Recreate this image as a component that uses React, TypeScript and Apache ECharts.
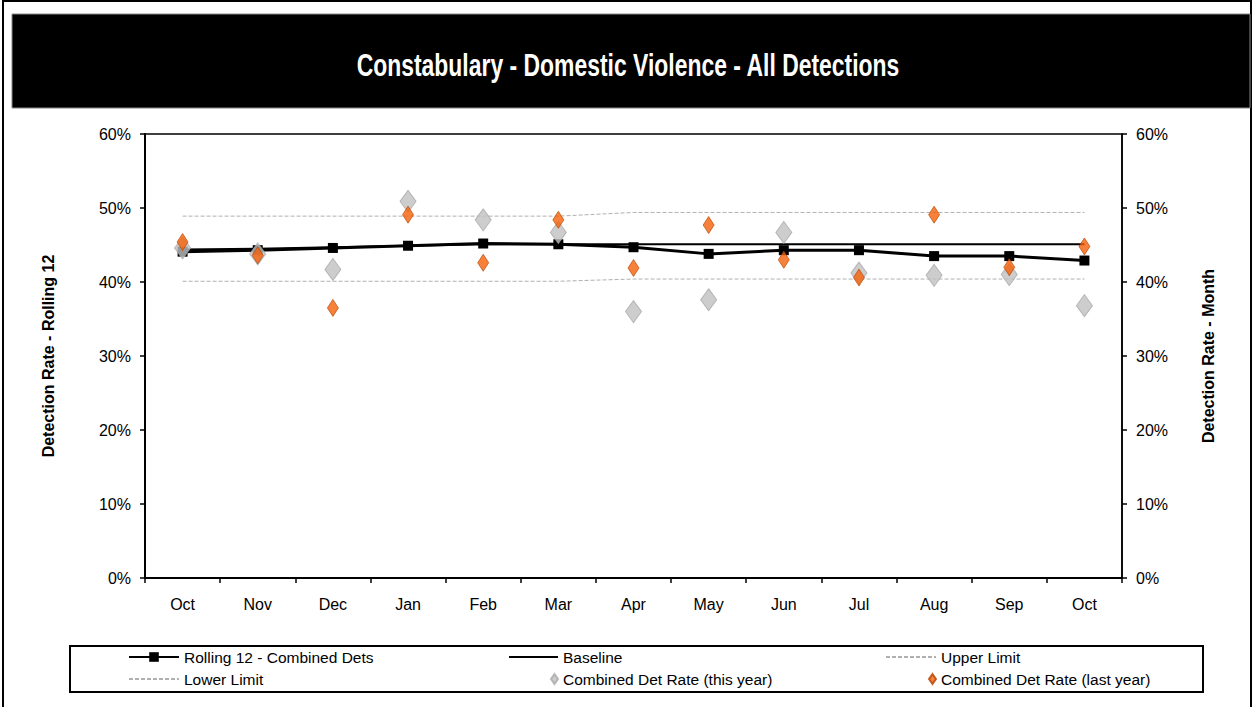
import React, { useEffect, useRef } from "react";
import * as echarts from "echarts";

const months = ["Oct", "Nov", "Dec", "Jan", "Feb", "Mar", "Apr", "May", "Jun", "Jul", "Aug", "Sep", "Oct"];
const rolling12 = [44.1, 44.3, 44.6, 44.9, 45.2, 45.1, 44.7, 43.8, 44.3, 44.3, 43.5, 43.5, 42.9];
const baseline = [44.4, 44.5, 44.7, 44.9, 45.1, 45.1, 45.1, 45.1, 45.1, 45.1, 45.1, 45.1, 45.1];
const upperLimit = [48.9, 48.9, 48.9, 48.9, 48.9, 48.9, 49.4, 49.4, 49.4, 49.4, 49.4, 49.4, 49.4];
const lowerLimit = [40.1, 40.1, 40.1, 40.1, 40.1, 40.1, 40.4, 40.4, 40.4, 40.4, 40.4, 40.4, 40.4];
const thisYear = [44.6, 43.8, 41.7, 50.9, 48.4, 46.7, 36.0, 37.6, 46.7, 41.2, 40.9, 41.0, 36.8];
const lastYear = [45.4, 43.6, 36.5, 49.1, 42.6, 48.4, 41.9, 47.7, 43.0, 40.6, 49.1, 42.0, 44.8];

const TITLE = "Constabulary - Domestic Violence - All Detections";
const SANS = '"Liberation Sans", Arial, sans-serif';

export default function App() {
  const ref = useRef<HTMLDivElement>(null);
  useEffect(() => {
    if (!ref.current) return;
    const chart = echarts.init(ref.current, null, { renderer: "svg" });
    const legendText = { fontFamily: SANS, fontSize: 15.5, color: "#000" };
    const mkLegend = (name: string, left: number, top: number, w: number, h: number) => ({
      data: [name],
      left,
      top,
      itemWidth: w,
      itemHeight: h,
      padding: 0,
      itemGap: 0,
      selectedMode: false,
      textStyle: legendText,
    });
    const axisLabel = { color: "#000", fontFamily: SANS, fontSize: 16 };
    const axisName = { color: "#000", fontFamily: SANS, fontWeight: "bold", fontSize: 16 };
    chart.setOption({
      animation: false,
      backgroundColor: "#fff",
      graphic: [
        { type: "rect", shape: { x: 3, y: 1, width: 1248, height: 730 }, style: { fill: "none", stroke: "#000", lineWidth: 2 }, z: -1 },
        { type: "rect", shape: { x: 12, y: 14, width: 1238, height: 94 }, style: { fill: "#000", stroke: "#888", lineWidth: 1 }, z: -1 },
        {
          type: "text",
          x: 628,
          y: 65,
          scaleX: 0.74,
          style: {
            text: TITLE,
            x: 0,
            y: 0,
            fill: "#fff",
            fontFamily: SANS,
            fontWeight: "bold",
            fontSize: 31,
            textAlign: "center",
            textVerticalAlign: "middle",
          },
          z: 10,
        },
        { type: "rect", shape: { x: 70, y: 646, width: 1133, height: 46 }, style: { fill: "#fff", stroke: "#000", lineWidth: 2 }, z: -1 },
      ],
      legend: [
        mkLegend("Rolling 12 - Combined Dets", 128, 649, 50, 12),
        mkLegend("Baseline", 508, 649, 49, 12),
        mkLegend("Upper Limit", 885, 649, 50, 12),
        mkLegend("Lower Limit", 128, 671, 50, 12),
        mkLegend("Combined Det Rate (this year)", 550, 671, 7, 10),
        mkLegend("Combined Det Rate (last year)", 928, 671, 7, 10),
      ],
      grid: {
        left: 145,
        right: 133,
        top: 134,
        bottom: 129,
        show: true,
        borderColor: "#000",
        borderWidth: 1.5,
        backgroundColor: "#fff",
      },
      xAxis: {
        type: "category",
        data: months,
        boundaryGap: true,
        axisLine: { lineStyle: { color: "#000", width: 2 } },
        axisTick: { show: true, length: 5, lineStyle: { color: "#000", width: 1.5 } },
        axisLabel: { ...axisLabel, margin: 18 },
        splitLine: { show: false },
      },
      yAxis: [
        {
          type: "value",
          min: 0,
          max: 60,
          interval: 10,
          position: "left",
          name: "Detection Rate - Rolling 12",
          nameLocation: "middle",
          nameRotate: 90,
          nameGap: 89,
          nameTextStyle: axisName,
          axisLine: { show: true, lineStyle: { color: "#000", width: 2 } },
          axisTick: { show: true, length: 5, lineStyle: { color: "#000", width: 1.5 } },
          axisLabel: { ...axisLabel, margin: 14, formatter: "{value}%" },
          splitLine: { show: false },
        },
        {
          type: "value",
          min: 0,
          max: 60,
          interval: 10,
          position: "right",
          name: "Detection Rate - Month",
          nameLocation: "middle",
          nameRotate: 90,
          nameGap: 78,
          nameTextStyle: axisName,
          axisLine: { show: true, lineStyle: { color: "#000", width: 1.5 } },
          axisTick: { show: true, length: 5, lineStyle: { color: "#000", width: 1.5 } },
          axisLabel: { ...axisLabel, margin: 14, formatter: "{value}%" },
          splitLine: { show: false },
        },
      ],
      series: [
        {
          name: "Rolling 12 - Combined Dets",
          type: "line",
          yAxisIndex: 0,
          data: rolling12,
          symbol: "rect",
          symbolSize: 10,
          itemStyle: { color: "#000" },
          lineStyle: { color: "#000", width: 3 },
          z: 3,
        },
        {
          name: "Baseline",
          type: "line",
          yAxisIndex: 0,
          data: baseline,
          symbol: "none",
          itemStyle: { color: "#000", opacity: 0 },
          lineStyle: { color: "#000", width: 2 },
          z: 2,
        },
        {
          name: "Upper Limit",
          type: "line",
          yAxisIndex: 0,
          data: upperLimit,
          symbol: "none",
          itemStyle: { color: "#b0b0b0", opacity: 0 },
          lineStyle: { color: "#b0b0b0", width: 1, type: [4, 2] },
          z: 1,
        },
        {
          name: "Lower Limit",
          type: "line",
          yAxisIndex: 0,
          data: lowerLimit,
          symbol: "none",
          itemStyle: { color: "#b0b0b0", opacity: 0 },
          lineStyle: { color: "#b0b0b0", width: 1, type: [4, 2] },
          z: 1,
        },
        {
          name: "Combined Det Rate (this year)",
          type: "scatter",
          yAxisIndex: 1,
          data: thisYear,
          symbol: "diamond",
          symbolSize: [16, 22],
          itemStyle: { color: "#c0c0c0", borderColor: "#a9a9a9", borderWidth: 1 },
          z: 4,
        },
        {
          name: "Combined Det Rate (last year)",
          type: "scatter",
          yAxisIndex: 1,
          data: lastYear,
          symbol: "diamond",
          symbolSize: [11, 17],
          itemStyle: { color: "#f5620a", borderColor: "#b04400", borderWidth: 0.8 },
          z: 5,
        },
      ],
    });
    return () => chart.dispose();
  }, []);
  return (
    <div
      ref={ref}
      style={{ position: "absolute", left: 0, top: 0, width: 1255, height: 707, background: "#fff" }}
    />
  );
}
